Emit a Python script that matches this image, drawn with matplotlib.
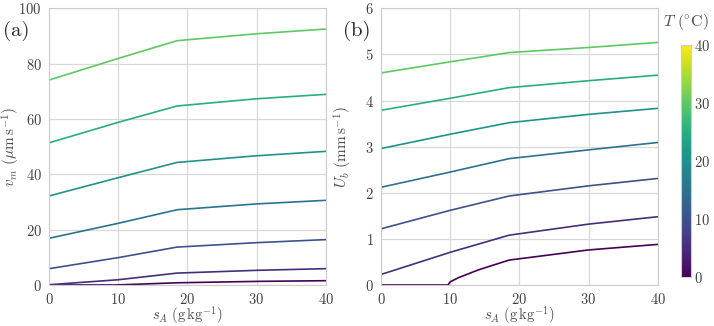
import matplotlib
matplotlib.use('Agg')
import matplotlib.pyplot as plt
import seaborn as sns
import numpy as np

sns.set_style('whitegrid')
plt.rcParams['font.family'] = 'serif'
plt.rcParams['font.serif'] = ['cmr10']
plt.rcParams['mathtext.fontset'] = 'cm'
plt.rcParams['axes.formatter.use_mathtext'] = True

# temperatures (deg C) of the curves
temps = [0, 5, 10, 15, 20, 25, 30]

# salinity sample points (g/kg) and read-off values
s_common = [0, 10, 18.5, 30, 40]

vm = {
    5: [0.1, 1.9, 4.3, 5.3, 5.9],
    10: [5.9, 9.9, 13.7, 15.3, 16.4],
    15: [16.9, 22.3, 27.2, 29.3, 30.6],
    20: [32.2, 38.8, 44.3, 46.7, 48.3],
    25: [51.4, 58.8, 64.7, 67.3, 68.9],
    30: [74.1, 81.9, 88.3, 90.8, 92.5],
}
s_vm0 = [0, 9.65, 18.5, 30, 40]
vm0 = [0, 0, 0.8, 1.3, 1.55]

ub = {
    5: [0.23, 0.71, 1.08, 1.32, 1.48],
    10: [1.22, 1.62, 1.93, 2.15, 2.31],
    15: [2.12, 2.45, 2.74, 2.93, 3.09],
    20: [2.96, 3.27, 3.52, 3.70, 3.83],
    25: [3.79, 4.05, 4.28, 4.43, 4.55],
    30: [4.60, 4.84, 5.04, 5.15, 5.26],
}
s_ub0 = [0, 9.65, 10, 11.2, 14.1, 18.5, 30, 40]
ub0 = [0, 0, 0.07, 0.16, 0.33, 0.54, 0.76, 0.88]

cmap = plt.get_cmap('viridis')
norm = matplotlib.colors.Normalize(vmin=0, vmax=40)

fig = plt.figure(figsize=(7.14, 3.26), dpi=100)
ax1 = fig.add_axes([0.069, 0.1258, 0.387, 0.8487])
ax2 = fig.add_axes([0.534, 0.1258, 0.387, 0.8487])
cax = fig.add_axes([0.9534, 0.1494, 0.014, 0.7126])

lw = 1.2
ax1.plot(s_vm0, vm0, color=cmap(norm(0)), lw=lw)
ax2.plot(s_ub0, ub0, color=cmap(norm(0)), lw=lw)
for T in temps[1:]:
    ax1.plot(s_common, vm[T], color=cmap(norm(T)), lw=lw)
    ax2.plot(s_common, ub[T], color=cmap(norm(T)), lw=lw)

for ax in (ax1, ax2):
    ax.set_xlim(0, 40)
    ax.set_xticks([0, 10, 20, 30, 40])
    ax.tick_params(labelsize=10.5, colors='.25')
    ax.tick_params(axis='x', pad=1.5)
    ax.tick_params(axis='y', pad=2)
    ax.grid(True, color='.85', lw=0.9)
    for sp in ax.spines.values():
        sp.set_color('.8')
    ax.set_xlabel(r'$s_A\ (\mathrm{g\,kg^{-1}})$', fontsize=10.5, color='.3')
    ax.xaxis.set_label_coords(0.5, -0.074)
    ax.yaxis.set_label_coords(-0.097, 0.5)

ax1.set_ylim(0, 100)
ax1.set_yticks([0, 20, 40, 60, 80, 100])
ax1.set_ylabel(r'$v_m\ (\mathrm{\mu m\,s^{-1}})$', fontsize=11, color='.3')
ax2.set_ylim(0, 6)
ax2.set_yticks([0, 1, 2, 3, 4, 5, 6])
ax2.set_ylabel(r'$U_b\ (\mathrm{mm\,s^{-1}})$', fontsize=11, color='.3')

fig.text(0.004, 0.905, '(a)', fontsize=15, va='center', ha='left')
fig.text(0.481, 0.905, '(b)', fontsize=15, va='center', ha='left')

sm = matplotlib.cm.ScalarMappable(norm=norm, cmap=cmap)
cb = fig.colorbar(sm, cax=cax)
cb.set_ticks([0, 10, 20, 30, 40])
cb.ax.tick_params(length=0, labelsize=10.5, colors='.25', pad=2)
cb.outline.set_edgecolor('.8')
cb.ax.set_title(r'$T\ (^{\circ}\mathrm{C})$', fontsize=11.5, color='.3', pad=14)

fig.savefig('out.png', dpi=100)
